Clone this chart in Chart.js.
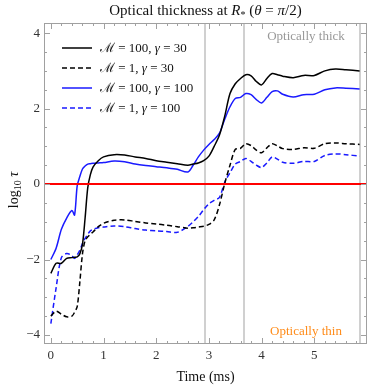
<!DOCTYPE html>
<html>
<head>
<meta charset="utf-8">
<script src="https://cdn.jsdelivr.net/npm/chart.js@4.4.1/dist/chart.umd.min.js"></script>
<style>
  html, body { margin: 0; padding: 0; background: #fff; }
  #wrap { width: 374px; height: 390px; }
</style>
</head>
<body>
<div id="wrap"><canvas id="chart" width="374" height="390"></canvas></div>
<script>
// tijd in ms, gedeeld door alle vier de lijnen
const times = [0, 0.1, 0.2, 0.3, 0.4, 0.45, 0.5, 0.55, 0.6, 0.65, 0.7, 0.75, 0.8, 0.9, 1.0, 1.2, 1.4, 1.6, 1.8, 2.0,
  2.2, 2.4, 2.6, 2.7, 2.8, 2.9, 3.0, 3.1, 3.2, 3.3, 3.4, 3.5, 3.6, 3.7, 3.8, 3.9, 4.0, 4.1, 4.2, 4.3, 4.4,
  4.6, 4.8, 5.0, 5.2, 5.4, 5.6, 5.86];

// log10 tau
const m100g30 = [-2.37, -2.1, -2.1, -1.97, -1.95, -1.94, -1.93, -1.85, -1.6, -0.9, -0.1, 0.25, 0.45, 0.62, 0.72, 0.78, 0.77, 0.72, 0.68, 0.62,
  0.58, 0.54, 0.5, 0.53, 0.56, 0.62, 0.74, 1.0, 1.3, 1.8, 2.4, 2.66, 2.8, 2.9, 2.87, 2.72, 2.63, 2.8, 2.93, 2.9, 2.86,
  2.82, 2.88, 2.88, 3.0, 3.05, 3.03, 3.0];
const m1g30 = [-3.5, -3.37, -3.45, -3.52, -3.5, -3.4, -3.25, -2.6, -1.85, -1.5, -1.4, -1.33, -1.27, -1.13, -1.04, -0.96, -0.95, -0.99, -1.03, -1.06,
  -1.09, -1.13, -1.17, -1.16, -1.14, -1.12, -1.07, -0.95, -0.55, 0.02, 0.5, 0.92, 0.95, 1.07, 1.02, 0.9, 0.83, 0.96, 1.07, 1.01, 0.94,
  0.92, 0.96, 0.95, 1.07, 1.09, 1.07, 1.05];
const m100g100 = [-2.0, -1.7, -1.2, -0.9, -0.7, -0.82, -0.05, 0.2, 0.4, 0.48, 0.53, 0.54, 0.55, 0.56, 0.57, 0.61, 0.59, 0.53, 0.49, 0.46,
  0.43, 0.39, 0.32, 0.5, 0.72, 0.9, 1.05, 1.18, 1.35, 1.72, 2.05, 2.27, 2.3, 2.4, 2.37, 2.24, 2.15, 2.3, 2.45, 2.47, 2.38,
  2.31, 2.37, 2.38, 2.5, 2.55, 2.54, 2.52];
const m1g100 = [-3.7, -2.75, -1.95, -1.84, -1.9, -1.97, -1.88, -1.75, -1.58, -1.44, -1.33, -1.24, -1.2, -1.16, -1.14, -1.11, -1.13, -1.18, -1.22, -1.24,
  -1.26, -1.28, -1.12, -1.0, -0.86, -0.68, -0.52, -0.43, -0.35, 0.05, 0.3, 0.53, 0.6, 0.68, 0.6, 0.5, 0.44, 0.56, 0.72, 0.66, 0.58,
  0.55, 0.6, 0.6, 0.76, 0.8, 0.78, 0.74];

// legenda: Mach-getal en gamma per lijn
const machs = ['100', '1', '100', '1'];
const gammas = ['30', '30', '100', '100'];
const xTicks = [0, 1, 2, 3, 4, 5];
const yTicks = [-4, -2, 0, 2, 4];
const markerTimes = [2.93, 3.67, 5.87];

const serif = '"Liberation Serif", "DejaVu Serif", serif';

function punten(vals) {
  return times.map((t, i) => ({ x: t, y: vals[i] }));
}

// stukjes tekst met verschillende fonts achter elkaar zetten
function tekstDelen(ctx, parts, x, y, centreren) {
  let w = 0;
  parts.forEach(p => { ctx.font = p[1]; w += ctx.measureText(p[0]).width; });
  if (centreren) x = x - w / 2;
  parts.forEach(p => {
    ctx.font = p[1];
    ctx.fillText(p[0], x, y + (p[2] || 0));
    x += ctx.measureText(p[0]).width;
  });
}

// alles wat niet uit de data komt: kader, tickjes, lijnen, teksten, legenda
const extras = {
  id: 'extras',
  beforeDatasetsDraw(chart) {
    const ctx = chart.ctx;
    const a = chart.chartArea;
    const xs = chart.scales.x;
    ctx.save();
    ctx.strokeStyle = '#d0d0d0';
    ctx.lineWidth = 2;
    markerTimes.forEach(t => {
      const px = Math.round(xs.getPixelForValue(t));
      ctx.beginPath();
      ctx.moveTo(px, a.top);
      ctx.lineTo(px, a.bottom);
      ctx.stroke();
    });
    ctx.restore();
  },
  afterDatasetsDraw(chart) {
    const ctx = chart.ctx;
    const a = chart.chartArea;
    const xs = chart.scales.x;
    const ys = chart.scales.y;
    ctx.save();
    // rode lijn op 0
    ctx.strokeStyle = '#ff0000';
    ctx.lineWidth = 2;
    const y0 = Math.round(ys.getPixelForValue(0));
    ctx.beginPath();
    ctx.moveTo(a.left, y0);
    ctx.lineTo(a.right, y0);
    ctx.stroke();

    // kader
    ctx.strokeStyle = '#a0a0a0';
    ctx.lineWidth = 1;
    ctx.strokeRect(a.left + 0.5, a.top + 0.5, a.right - a.left - 1, a.bottom - a.top - 1);

    // tickjes naar binnen
    for (let v = 0; v <= 6.001; v += 0.2) {
      const px = Math.round(xs.getPixelForValue(v)) + 0.5;
      if (px > a.right - 1) continue;
      const major = Math.abs(v - Math.round(v)) < 0.001;
      const len = major ? 6 : 3;
      ctx.beginPath();
      ctx.moveTo(px, a.bottom); ctx.lineTo(px, a.bottom - len);
      ctx.moveTo(px, a.top); ctx.lineTo(px, a.top + len);
      ctx.stroke();
    }
    for (let v = -4; v <= 4.001; v += 0.5) {
      const py = Math.round(ys.getPixelForValue(v)) + 0.5;
      const major = Math.abs(v / 2 - Math.round(v / 2)) < 0.001;
      const len = major ? 6 : 3;
      ctx.beginPath();
      ctx.moveTo(a.left, py); ctx.lineTo(a.left + len, py);
      ctx.moveTo(a.right, py); ctx.lineTo(a.right - len, py);
      ctx.stroke();
    }

    // teksten in de plot
    ctx.font = '13px ' + serif;
    ctx.textAlign = 'center';
    ctx.textBaseline = 'middle';
    ctx.fillStyle = '#999999';
    ctx.fillText('Optically thick', 306, 37);
    ctx.fillStyle = '#ff8c1a';
    ctx.fillText('Optically thin', 306, 332);

    // legenda
    ctx.textAlign = 'left';
    chart.data.datasets.forEach((ds, i) => {
      const ly = 48 + i * 20;
      ctx.strokeStyle = ds.borderColor;
      ctx.lineWidth = 1.5;
      ctx.setLineDash(ds.borderDash || []);
      ctx.beginPath();
      ctx.moveTo(62, ly);
      ctx.lineTo(92, ly);
      ctx.stroke();
      ctx.setLineDash([]);
      ctx.fillStyle = '#111';
      tekstDelen(ctx, [
        ['\u2133', '13px ' + serif],
        [' = ' + machs[i] + ', ', '13px ' + serif],
        ['\u03b3', 'italic 13px ' + serif],
        [' = ' + gammas[i], '13px ' + serif]
      ], 100, ly + 1, false);
    });

    // titel
    ctx.fillStyle = '#111';
    tekstDelen(ctx, [
      ['Optical thickness at ', '15px ' + serif],
      ['R', 'italic 15px ' + serif],
      ['*', '10px ' + serif, 4],
      [' (', '15px ' + serif],
      ['\u03b8', 'italic 15px ' + serif],
      [' = ', '15px ' + serif],
      ['\u03c0', 'italic 15px ' + serif],
      ['/2)', '15px ' + serif]
    ], (a.left + a.right) / 2, 11, true);

    // y as titel
    ctx.translate(14, 190);
    ctx.rotate(-Math.PI / 2);
    tekstDelen(ctx, [
      ['log', '14px ' + serif],
      ['10', '10px ' + serif, 4],
      [' ', '14px ' + serif],
      ['\u03c4', 'italic 14px ' + serif]
    ], 0, 0, true);
    ctx.restore();
  }
};

const chart = document.querySelector('#chart');
new Chart(chart, {
  type: 'line',
  data: {
    datasets: [
      { label: 'M100 g30', data: punten(m100g30), borderColor: '#000000', borderWidth: 1.5 },
      { label: 'M1 g30', data: punten(m1g30), borderColor: '#000000', borderWidth: 1.5, borderDash: [5, 3] },
      { label: 'M100 g100', data: punten(m100g100), borderColor: '#1a1aff', borderWidth: 1.5 },
      { label: 'M1 g100', data: punten(m1g100), borderColor: '#1a1aff', borderWidth: 1.5, borderDash: [5, 3] }
    ]
  },
  options: {
    responsive: false,
    animation: false,
    events: [],
    layout: { padding: { top: 23, right: 7, left: 0, bottom: 0 } },
    elements: {
      point: { radius: 0 },
      line: { tension: 0.3, fill: false }
    },
    plugins: {
      legend: { display: false },
      tooltip: { enabled: false },
      title: { display: false }
    },
    scales: {
      x: {
        type: 'linear',
        min: -0.13,
        max: 6.0,
        afterBuildTicks: s => { s.ticks = xTicks.map(v => ({ value: v })); },
        afterFit: s => { s.height = 46; },
        grid: { display: false, drawTicks: false },
        border: { display: false },
        ticks: { color: '#333', font: { family: serif, size: 13 }, padding: 4 },
        title: { display: true, text: 'Time (ms)', color: '#111', font: { family: serif, size: 14 }, padding: { top: 2 } }
      },
      y: {
        type: 'linear',
        min: -4.24,
        max: 4.27,
        afterBuildTicks: s => { s.ticks = yTicks.map(v => ({ value: v })); },
        afterFit: s => { s.width = 44; },
        grid: { display: false, drawTicks: false },
        border: { display: false },
        ticks: {
          color: '#333',
          font: { family: serif, size: 13 },
          padding: 4,
          callback: v => (v < 0 ? '\u2212' + Math.abs(v) : String(v))
        }
      }
    }
  },
  plugins: [extras]
});
</script>
</body>
</html>
